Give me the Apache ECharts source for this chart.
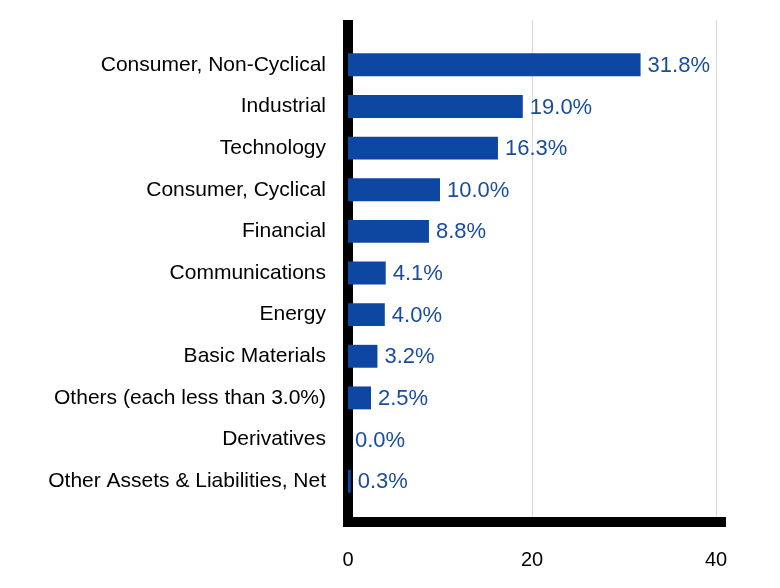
<!DOCTYPE html>
<html>
<head>
<meta charset="utf-8">
<script src="https://cdn.jsdelivr.net/npm/echarts@6/dist/echarts.min.js"></script>
<style>
  html, body { margin: 0; padding: 0; background: #fff; }
  #chart { width: 780px; height: 588px; }
</style>
</head>
<body>
<div id="chart"></div>
<script>
const categories = [
  "Consumer, Non-Cyclical",
  "Industrial",
  "Technology",
  "Consumer, Cyclical",
  "Financial",
  "Communications",
  "Energy",
  "Basic Materials",
  "Others (each less than 3.0%)",
  "Derivatives",
  "Other Assets & Liabilities, Net"
];
const values = [31.8, 19.0, 16.3, 10.0, 8.8, 4.1, 4.0, 3.2, 2.5, 0.0, 0.3];
const xTicks = { min: 0, max: 40, interval: 20 };

const FONT = "'Liberation Sans', Arial, Helvetica, sans-serif";
const chart = echarts.init(document.getElementById('chart'), null, { renderer: 'canvas' });

chart.setOption({
  animation: false,
  backgroundColor: '#ffffff',
  grid: [
    { left: 348, width: 368, top: 44, height: 458, containLabel: false },
    { left: 348, width: 368, top: 20, height: 502, containLabel: false },
    { left: 348, width: 373, top: 20, height: 502, containLabel: false }
  ],
  xAxis: [
    { gridIndex: 0, type: 'value', min: xTicks.min, max: xTicks.max, interval: xTicks.interval, show: false },
    {
      gridIndex: 1, type: 'value', min: xTicks.min, max: xTicks.max, interval: xTicks.interval,
      axisLine: { show: false },
      axisTick: { show: false },
      splitLine: { show: true, lineStyle: { color: '#d9d9d9', width: 1 } },
      axisLabel: { color: '#000', fontSize: 20, fontFamily: FONT, margin: 28 }
    },
    {
      gridIndex: 2, type: 'value', min: 0, max: 1,
      axisLine: { show: true, lineStyle: { color: '#000', width: 10, cap: 'square' } },
      axisTick: { show: false }, splitLine: { show: false }, axisLabel: { show: false }
    }
  ],
  yAxis: [
    {
      gridIndex: 0, type: 'category', data: categories, inverse: true,
      axisLine: { show: false }, axisTick: { show: false }, splitLine: { show: false },
      axisLabel: { color: '#000', fontSize: 21, fontFamily: FONT, margin: 22, padding: [2, 0, 0, 0] }
    },
    {
      gridIndex: 1, type: 'value', min: 0, max: 1,
      axisLine: { show: true, lineStyle: { color: '#000', width: 10, cap: 'butt' } },
      axisTick: { show: false }, splitLine: { show: false }, axisLabel: { show: false }
    },
    {
      gridIndex: 2, type: 'value', min: 0, max: 1, show: false
    }
  ],
  series: [{
    type: 'bar',
    xAxisIndex: 0, yAxisIndex: 0,
    data: values,
    barWidth: '55%',
    itemStyle: { color: '#0d47a1' },
    label: {
      show: true, position: 'right', distance: 7,
      color: '#1a4c9e', fontSize: 22, fontFamily: FONT, offset: [0, 1],
      formatter: p => p.value.toFixed(1) + '%'
    }
  }]
});
</script>
</body>
</html>
